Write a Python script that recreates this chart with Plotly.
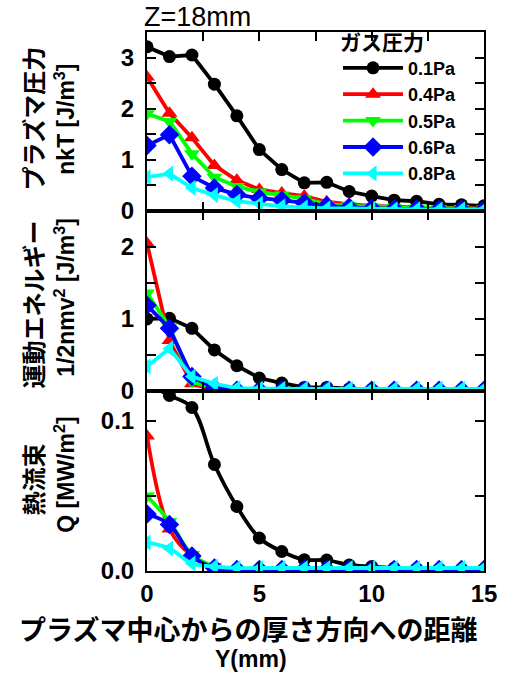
import plotly.graph_objects as go
from plotly.subplots import make_subplots

# ---- data ----
y_mm = list(range(16))
labels = ["0.1Pa", "0.4Pa", "0.5Pa", "0.6Pa", "0.8Pa"]
colors = ["#000000", "#ff0000", "#00ff00", "#0000ff", "#00ffff"]
symbols = ["circle", "triangle-up", "triangle-down", "diamond", "triangle-left"]

# plasma pressure nkT [J/m3]
nkT_01 = [3.21, 3.02, 3.05, 2.48, 1.86, 1.20, 0.81, 0.55, 0.56, 0.38, 0.29, 0.21, 0.19, 0.13, 0.12, 0.10]
nkT_04 = [2.62, 1.91, 1.43, 0.89, 0.60, 0.42, 0.35, 0.29, 0.18, 0.13, 0.10, 0.08, 0.07, 0.06, 0.05, 0.05]
nkT_05 = [1.90, 1.75, 1.12, 0.66, 0.48, 0.37, 0.31, 0.24, 0.13, 0.10, 0.08, 0.07, 0.06, 0.05, 0.05, 0.04]
nkT_06 = [1.28, 1.49, 0.68, 0.45, 0.32, 0.25, 0.21, 0.16, 0.10, 0.07, 0.05, 0.04, 0.04, 0.03, 0.03, 0.03]
nkT_08 = [0.66, 0.73, 0.45, 0.31, 0.19, 0.14, 0.09, 0.07, 0.05, 0.05, 0.04, 0.03, 0.03, 0.03, 0.03, 0.03]

# kinetic energy 1/2 n m v^2 [J/m3]
ke_01 = [1.00, 1.01, 0.87, 0.57, 0.35, 0.18, 0.11, 0.05, 0.05, 0.03, 0.02, 0.02, 0.02, 0.02, 0.02, 0.02]
ke_04 = [2.05, 0.70, 0.10, 0.01, 0.00, 0.00, 0.00, 0.00, 0.00, 0.00, 0.00, 0.00, 0.00, 0.00, 0.00, 0.00]
ke_05 = [1.36, 0.89, 0.13, 0.03, 0.01, 0.01, 0.01, 0.01, 0.01, 0.01, 0.01, 0.01, 0.01, 0.01, 0.01, 0.01]
ke_06 = [1.19, 0.87, 0.20, 0.04, 0.01, 0.01, 0.01, 0.01, 0.01, 0.01, 0.01, 0.01, 0.01, 0.01, 0.01, 0.01]
ke_08 = [0.34, 0.59, 0.20, 0.10, 0.04, 0.03, 0.03, 0.03, 0.03, 0.03, 0.03, 0.03, 0.03, 0.03, 0.03, 0.03]

# heat flux Q [MW/m2]
q_01 = [0.125, 0.117, 0.109, 0.071, 0.043, 0.022, 0.013, 0.0075, 0.0073, 0.004, 0.003, 0.002, 0.0015, 0.001, 0.001, 0.001]
q_04 = [0.090, 0.028, 0.010, 0.003, 0.001, 0.001, 0.001, 0.001, 0.001, 0.001, 0.001, 0.001, 0.001, 0.001, 0.001, 0.001]
q_05 = [0.050, 0.033, 0.011, 0.003, 0.001, 0.001, 0.001, 0.001, 0.001, 0.001, 0.001, 0.001, 0.001, 0.001, 0.001, 0.001]
q_06 = [0.038, 0.031, 0.010, 0.002, 0.001, 0.001, 0.001, 0.001, 0.001, 0.001, 0.001, 0.001, 0.001, 0.001, 0.001, 0.001]
q_08 = [0.019, 0.015, 0.005, 0.003, 0.002, 0.002, 0.002, 0.002, 0.002, 0.002, 0.002, 0.002, 0.002, 0.002, 0.002, 0.002]

nkT = [nkT_01, nkT_04, nkT_05, nkT_06, nkT_08]
ke = [ke_01, ke_04, ke_05, ke_06, ke_08]
qf = [q_01, q_04, q_05, q_06, q_08]

FONT = "Liberation Sans, Arial, Noto Sans CJK JP, sans-serif"
JFONT = "Noto Sans CJK JP, Liberation Sans, sans-serif"

fig = make_subplots(rows=3, cols=1, shared_xaxes=True, vertical_spacing=0)

msize = {"circle": 13, "triangle-up": 14, "triangle-down": 14, "diamond": 15, "triangle-left": 14}

for row, series in ((1, nkT), (2, ke), (3, qf)):
    for i in range(5):
        fig.add_trace(go.Scatter(
            x=y_mm, y=series[i], name=labels[i], mode="lines+markers",
            line=dict(color=colors[i], width=3.8,
                      shape="spline" if row == 3 else "linear", smoothing=1.0),
            marker=dict(symbol=symbols[i], size=msize[symbols[i]], color=colors[i],
                        line=dict(width=0)),
            showlegend=(row == 1), legendgroup=labels[i],
        ), row=row, col=1)

axis_common = dict(
    showline=True, linewidth=2, linecolor="black", mirror="allticks",
    ticks="inside", ticklen=9, tickwidth=2, tickcolor="black",
    showgrid=False, zeroline=False,
    tickfont=dict(family=FONT, size=24, color="black", weight="bold"),
)

for r in (1, 2, 3):
    fig.update_xaxes(range=[0, 15], tick0=0, dtick=5,
                     minor=dict(dtick=2.5, ticks="inside", ticklen=9, tickwidth=2, tickcolor="black"),
                     showticklabels=(r == 3), row=r, col=1, **axis_common)

fig.update_yaxes(range=[0, 3.5], dtick=1, tick0=0,
                 minor=dict(dtick=0.5, ticks="inside", ticklen=9, tickwidth=2, tickcolor="black"),
                 domain=[0.668, 1.0], ticklabelstandoff=6, row=1, col=1, **axis_common)
fig.update_yaxes(range=[0, 2.5], dtick=1, tick0=0,
                 minor=dict(dtick=0.5, ticks="inside", ticklen=9, tickwidth=2, tickcolor="black"),
                 domain=[0.334, 0.668], ticklabelstandoff=6, row=2, col=1, **axis_common)
fig.update_yaxes(range=[0, 0.12], dtick=0.1, tick0=0, tickformat=".1f",
                 minor=dict(dtick=0.05, ticks="inside", ticklen=9, tickwidth=2, tickcolor="black"),
                 domain=[0.0, 0.334], ticklabelstandoff=6, row=3, col=1, **axis_common)

L, R, T, B = 147, 18, 32, 104
W, H = 509, 675
pw, ph = W - L - R, H - T - B

def px(x):
    return (x - L) / pw

def py(y):
    return (H - B - y) / ph

annotations = [
    dict(text="Z=18mm", x=px(142), y=py(17), xanchor="left", yanchor="middle",
         font=dict(family=FONT, size=27, color="black")),
    dict(text="プラズマ圧力", x=px(30), y=py(118), textangle=-90,
         font=dict(family=JFONT, size=24, color="black", weight="bold")),
    dict(text="nkT [J/m<sup>3</sup>]", x=px(63), y=py(119), textangle=-90,
         font=dict(family=FONT, size=23, color="black", weight="bold")),
    dict(text="運動エネルギー", x=px(30), y=py(304), textangle=-90,
         font=dict(family=JFONT, size=24, color="black", weight="bold")),
    dict(text="1/2nmv<sup>2</sup> [J/m<sup>3</sup>]", x=px(63), y=py(297), textangle=-90,
         font=dict(family=FONT, size=23, color="black", weight="bold")),
    dict(text="熱流束", x=px(30), y=py(479), textangle=-90,
         font=dict(family=JFONT, size=24, color="black", weight="bold")),
    dict(text="Q [MW/m<sup>2</sup>]", x=px(63), y=py(475), textangle=-90,
         font=dict(family=FONT, size=23, color="black", weight="bold")),
    dict(text="プラズマ中心からの厚さ方向への距離", x=px(250), y=py(628),
         font=dict(family=JFONT, size=27, color="black", weight="bold")),
    dict(text="Y(mm)", x=px(253), y=py(659),
         font=dict(family=FONT, size=23, color="black", weight="bold")),
]
for a in annotations:
    a.update(xref="paper", yref="paper", showarrow=False)
    a.setdefault("xanchor", "center")
    a.setdefault("yanchor", "middle")

fig.update_layout(
    width=W, height=H,
    margin=dict(l=L, r=R, t=T, b=B, pad=0),
    paper_bgcolor="white", plot_bgcolor="white",
    showlegend=True,
    legend=dict(
        x=px(342), y=1.018, xanchor="left", yanchor="top",
        bgcolor="rgba(0,0,0,0)", borderwidth=0,
        font=dict(family=FONT, size=18, color="black", weight="bold"),
        title=dict(text="ガス圧力", font=dict(family=JFONT, size=21, color="black", weight="bold")),
        itemwidth=60, tracegroupgap=0,
    ),
    annotations=annotations,
)

fig.write_html("out.html")
